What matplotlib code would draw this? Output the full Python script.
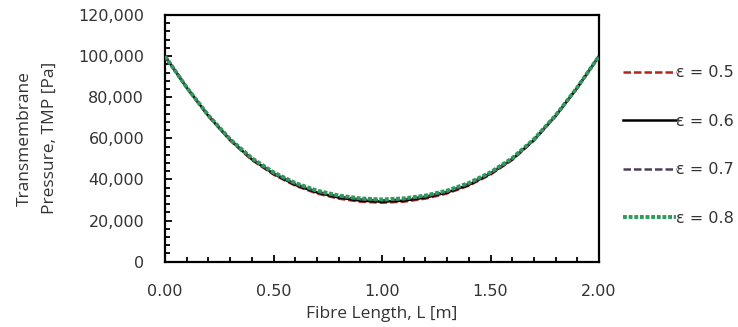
import matplotlib.pyplot as plt
from matplotlib.ticker import MultipleLocator, FuncFormatter

# Fibre length positions [m]
length = [0.0, 0.1, 0.2, 0.3, 0.4, 0.5, 0.6, 0.7, 0.8, 0.9, 1.0,
          1.1, 1.2, 1.3, 1.4, 1.5, 1.6, 1.7, 1.8, 1.9, 2.0]

# TMP [Pa]
tmp_05 = [100000, 84600, 70800, 59000, 49500, 42400, 37000, 33200, 30700, 29200, 28700,
          29200, 30700, 33200, 37000, 42400, 49500, 59000, 70800, 84600, 100000]
tmp_06 = [100000, 84700, 70900, 59200, 49800, 42800, 37400, 33700, 31200, 29700, 29200,
          29700, 31200, 33700, 37400, 42800, 49800, 59200, 70900, 84700, 100000]
tmp_07 = [100000, 84700, 71100, 59400, 50100, 43100, 37900, 34100, 31700, 30300, 29800,
          30300, 31700, 34100, 37900, 43100, 50100, 59400, 71100, 84700, 100000]
tmp_08 = [100000, 84800, 71200, 59600, 50400, 43500, 38300, 34600, 32200, 30800, 30300,
          30800, 32200, 34600, 38300, 43500, 50400, 59600, 71200, 84800, 100000]

labels = ["ε = 0.5", "ε = 0.6", "ε = 0.7", "ε = 0.8"]

fig = plt.figure(figsize=(7.38, 3.27), dpi=100)
ax = fig.add_axes([0.2236, 0.1997, 0.5881, 0.7543])

ax.plot(length, tmp_05, color="#b5231c", lw=1.8, ls=(0, (3, 1.2)), label=labels[0], zorder=2)
ax.plot(length, tmp_06, color="black", lw=1.8, ls="-", label=labels[1], zorder=3)
ax.plot(length, tmp_07, color="#4a3f5e", lw=1.8, ls=(0, (3, 1.2)), label=labels[2], zorder=4)
ax.plot(length, tmp_08, color="#2e9b5b", lw=2.8, ls=(0, (1, 0.45)), label=labels[3], zorder=5)

ax.set_xlim(0, 2.0)
ax.set_ylim(0, 120000)
ax.xaxis.set_major_locator(MultipleLocator(0.5))
ax.xaxis.set_minor_locator(MultipleLocator(0.1))
ax.yaxis.set_major_locator(MultipleLocator(20000))
ax.yaxis.set_minor_locator(MultipleLocator(4000))
ax.xaxis.set_major_formatter(FuncFormatter(lambda v, p: f"{v:.2f}"))
ax.yaxis.set_major_formatter(FuncFormatter(lambda v, p: f"{v:,.0f}"))

ax.tick_params(which="both", direction="in", width=1.3, colors="black",
               labelsize=11.5, labelcolor="#333333")
ax.tick_params(which="major", length=5)
ax.tick_params(which="minor", length=3.5)
ax.tick_params(axis="x", which="major", pad=16)
ax.tick_params(axis="y", which="major", pad=15)

for s in ax.spines.values():
    s.set_linewidth(1.6)
    s.set_color("black")

ax.set_xlabel("Fibre Length, L [m]", fontsize=12.5, family="Open Sans", color="#333333", labelpad=5)
ax.set_ylabel("Transmembrane\nPressure, TMP [Pa]", fontsize=12.5, family="Open Sans",
              color="#333333", labelpad=15, linespacing=1.7)

fig.legend(loc="upper left", bbox_to_anchor=(0.844, 0.80), frameon=False,
           fontsize=11.5, handlelength=3.3, handletextpad=0.05, labelspacing=2.1,
           borderpad=0, borderaxespad=0, labelcolor="#333333")

fig.savefig("out.png", dpi=100, facecolor="white")
